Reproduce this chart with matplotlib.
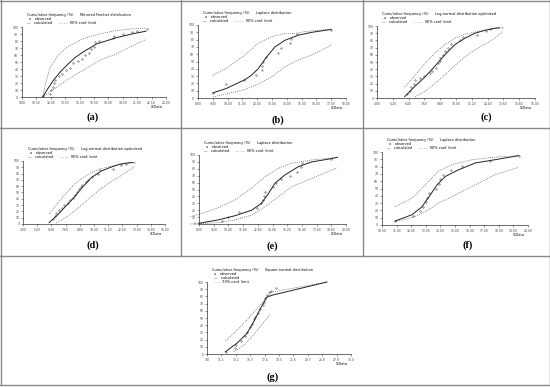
import numpy as np
import matplotlib
matplotlib.use("Agg")
import matplotlib.pyplot as plt
from matplotlib.lines import Line2D

W, H = 550, 387

# ---- panel (a) Mirrored Frechet
a_xticks = [9.0, 10.5, 12.0, 13.5, 15.0, 16.5, 18.0, 19.5, 21.0, 22.5, 24.0]
a_calc_x = [11.15, 11.6, 12.3, 13.0, 13.7, 14.5, 15.4, 16.8, 18.9, 20.6, 21.9]
a_calc_y = [0, 10, 24.5, 36, 45.8, 56, 64.6, 76, 85, 90.5, 94]
a_up_x = [11.15, 11.5, 11.95, 12.8, 13.7, 15.4, 17.2, 18.9, 20.6, 21.9]
a_up_y = [0, 22, 43, 60, 71.7, 83.5, 90.5, 95, 97.5, 98.5]
a_lo_x = [11.15, 12.3, 13.7, 15.4, 17.2, 18.9, 20.6, 21.9]
a_lo_y = [0, 11, 24.5, 38.7, 53, 62, 74, 82]
a_obs_x = [11.2, 11.9, 12.0, 12.2, 12.3, 12.4, 12.9, 13.2, 13.6, 14.0, 14.3, 14.8, 15.2,
           15.6, 16.0, 16.2, 16.5, 16.6, 17.0, 18.5, 18.6, 19.5, 20.5, 21.0, 22.0]
a_obs_y = [1, 5, 10, 15, 20, 25, 30, 33, 38, 42, 48, 52, 55,
           60, 63, 68, 72, 78, 80, 85, 87, 90, 93, 95, 97]

# ---- panel (b) Laplace
b_xticks = [8.0, 9.0, 10.0, 11.0, 12.0, 13.0, 14.0, 15.0, 16.0, 17.0, 18.0]
b_calc_x = [9.0, 9.9, 11.16, 11.6, 12.06, 12.63, 13.2, 13.87, 14.77, 15.7, 16.85, 17.0]
b_calc_y = [7, 13, 25, 31, 40, 56, 70, 79, 86, 90, 93.5, 94]
b_up_x = [9.0, 10.0, 11.16, 12.06, 12.97, 13.9, 14.5, 15.2, 16.85, 17.0]
b_up_y = [31, 42, 58.7, 74.8, 84, 88.5, 88, 91, 94, 94]
b_lo_x = [9.0, 10.0, 11.16, 12.06, 12.97, 13.87, 14.77, 15.7, 16.85, 17.0]
b_lo_y = [1.4, 6, 11.5, 19, 29, 42.7, 52, 59, 71, 73]
b_obs_x = [9.0, 9.9, 11.1, 11.9, 12.3, 12.35, 12.4, 12.6, 13.4, 13.6, 14.2, 14.3, 14.7, 17.0]
b_obs_y = [6.5, 19, 25, 31, 38, 44, 50, 56, 62, 69, 75, 81, 87, 93]

# ---- panel (c) Log-normal optimized
c_xticks = [4.0, 5.2, 6.4, 7.6, 8.8, 10.0, 11.2, 12.4, 13.6, 14.8, 16.0]
c_calc_x = [6.1, 6.87, 7.63, 8.39, 9.15, 9.91, 10.67, 11.44, 12.2, 12.96, 13.3]
c_calc_y = [2, 16, 29, 44, 60, 74, 83, 90, 94, 97, 97.5]
c_up_x = [6.1, 6.87, 7.63, 8.39, 9.15, 9.91, 10.67, 11.94, 13.2, 13.6, 13.5]
c_up_y = [15, 31, 48, 62, 74, 83, 88.5, 93.5, 97, 98, 95]
c_lo_x = [6.87, 7.63, 8.39, 9.15, 9.91, 10.67, 11.44, 12.2, 12.96, 13.5]
c_lo_y = [1.4, 9, 20, 32, 45, 57, 67, 75, 83, 92]
c_obs_x = [6.3, 6.5, 6.6, 6.8, 6.9, 7.3, 7.6, 8.0, 8.2, 8.5, 8.6, 8.8, 8.8,
           9.0, 9.2, 9.4, 9.6, 10.3, 10.5, 11.6, 12.3, 12.6]
c_obs_y = [5, 10, 15, 20, 25, 28, 30, 35, 38, 42, 48, 52, 55,
           60, 65, 70, 75, 80, 85, 88, 93, 96]

# ---- panel (d) Log-normal optimized
d_xticks = c_xticks
d_calc_x = [6.2, 6.9, 7.6, 8.3, 9.0, 9.8, 10.6, 11.4, 12.2, 12.9, 13.3]
d_calc_y = [2, 14, 28, 42, 58, 74, 84, 90, 95, 97, 97.5]
d_up_x = [6.2, 6.9, 7.6, 8.3, 9.0, 9.8, 10.6, 11.8, 12.9, 13.5, 13.4]
d_up_y = [16, 32, 48, 62, 73, 82, 88, 93, 97, 98, 95]
d_lo_x = [6.8, 7.6, 8.3, 9.0, 9.8, 10.6, 11.4, 12.2, 12.9, 13.4]
d_lo_y = [1.5, 10, 20, 31, 44, 56, 67, 76, 84, 91]
d_obs_x = [6.5, 6.7, 6.8, 7.0, 7.3, 7.5, 7.8, 8.0, 8.2, 8.4, 8.6, 8.7, 8.9,
           9.0, 9.3, 9.5, 9.8, 10.3, 10.5, 11.6, 12.3, 12.7]
d_obs_y = [8, 12, 18, 22, 26, 30, 34, 38, 42, 46, 50, 55, 58,
           62, 66, 70, 75, 80, 85, 88, 93, 96]

# ---- panel (e) Laplace
e_xticks = [8.0, 9.2, 10.4, 11.6, 12.8, 14.0, 15.2, 16.4, 17.6, 18.8, 20.0]
e_calc_x = [8.0, 9.58, 10.94, 12.3, 13.1, 13.66, 14.2, 15.0, 16.1, 17.2, 18.56, 19.3]
e_calc_y = [1, 6, 12, 20, 30, 44, 59, 71, 83, 90, 94, 96.6]
e_up_x = [7.3, 8.0, 9.58, 10.94, 12.3, 13.4, 14.48, 15.56, 17.2, 19.3]
e_up_y = [11, 14, 23.7, 35, 52, 68.6, 80.7, 88, 92.8, 96.6]
e_lo_x = [7.3, 8.0, 9.58, 10.94, 12.3, 13.4, 14.48, 15.56, 17.2, 19.3]
e_lo_y = [0, 0.5, 2, 6, 13, 25, 39.6, 54, 66, 81.6]
e_obs_x = [8.0, 9.9, 10.4, 11.3, 12.7, 13.1, 13.2, 13.3, 13.4, 14.0, 14.3, 14.7,
           15.4, 16.0, 16.3, 16.4, 18.8]
e_obs_y = [1, 5, 10, 17, 23, 30, 35, 41, 47, 53, 59, 65, 70, 76, 82, 88, 94]

# ---- panel (f) Laplace
f_xticks = [10.0, 11.0, 12.0, 13.0, 14.0, 15.0, 16.0, 17.0, 18.0, 19.0, 20.0]
f_calc_x = [10.9, 12.05, 12.74, 13.3, 13.77, 14.34, 15.25, 16.4, 17.76, 19.36]
f_calc_y = [5.5, 14, 25, 41, 55, 66.5, 75.7, 85, 89.5, 95]
f_up_x = [10.9, 12.05, 12.97, 13.88, 14.8, 16.16, 17.76, 19.36]
f_up_y = [25, 36.7, 55, 74, 82.6, 89.4, 93, 95]
f_lo_x = [10.9, 12.05, 12.97, 13.88, 14.8, 16.16, 17.76, 19.36]
f_lo_y = [4.6, 10, 18, 30, 39, 52.8, 69, 79]
f_obs_x = [10.9, 12.1, 12.6, 12.8, 13.0, 13.1, 13.2, 13.7, 13.9, 14.0, 14.2, 14.7,
           15.5, 17.4, 19.4]
f_obs_y = [6, 12, 19, 25, 31, 37, 44, 50, 56, 63, 69, 75, 81, 88, 94]

# ---- panel (g) Square-normal
g_xticks = [9.0, 11.1, 13.2, 15.3, 17.4, 19.5, 21.6, 23.7, 25.8, 27.9, 30.0]
g_calc_x = [11.67, 13.37, 14.83, 15.8, 16.77, 17.74, 18.47, 26.5]
g_calc_y = [3, 15, 28.6, 44.7, 63, 79, 81.6, 100]
g_up_x = [11.67, 13.37, 14.83, 16.28, 17.74, 18.47, 26.5]
g_up_y = [18, 33, 47, 63, 79, 86, 100]
g_lo_x = [12.9, 14.34, 15.55, 16.77, 18.2]
g_lo_y = [3, 12, 24, 38, 55]
g_obs_x = [11.7, 13.1, 13.3, 14.0, 14.5, 14.8, 15.3, 15.5, 15.8, 16.0, 16.5, 16.8,
           17.1, 17.3, 17.5, 17.8, 18.0, 18.4, 19.0]
g_obs_y = [3, 8, 12, 18, 25, 30, 37, 42, 48, 52, 57, 62, 68, 72, 78, 82, 86, 88, 91]

fig = plt.figure(figsize=(W / 100, H / 100), dpi=100)


def fx(x):
    return x / W


def fy(y):
    return 1 - y / H


def panel(rect, xticks, fmt, calc, up, lo, obs, title, letter, letter_xy, three_rows=False):
    l, t, r, b = rect
    ax = fig.add_axes([fx(l), fy(b), fx(r - l), (b - t) / H])
    ax.set_xlim(xticks[0], xticks[-1])
    ax.set_ylim(0, 100)
    for s in ["top", "right"]:
        ax.spines[s].set_visible(False)
    for s in ["left", "bottom"]:
        ax.spines[s].set_linewidth(0.5)
        ax.spines[s].set_color("#333333")
    ax.set_xticks(xticks)
    ax.set_xticklabels([fmt.format(v) for v in xticks])
    ax.set_yticks(range(0, 101, 10))
    ax.tick_params(labelsize=2.2, length=1.2, width=0.4, pad=1.5, colors="#444444")
    ax.plot(up[0], up[1], ls=(0, (1.5, 1.5)), lw=0.5, color="#666666", clip_on=False)
    ax.plot(lo[0], lo[1], ls=(0, (1.5, 1.5)), lw=0.5, color="#666666", clip_on=False)
    ax.plot(calc[0], calc[1], ls="-", lw=0.7, color="#222222", clip_on=False)
    ax.plot(obs[0], obs[1], ls="none", marker="o", ms=1.0, mfc="none", mec="#333333",
            mew=0.35, clip_on=False)

    fs = 2.5
    fig.text(fx(l + 5), fy(t - 12), "Cumulative frequency (%)", fontsize=fs, va="center")
    fig.text(fx(l + 58), fy(t - 12), title, fontsize=fs, va="center")
    fig.text(fx(l + 7), fy(t - 8), "o   observed", fontsize=fs, va="center")
    if three_rows:
        fig.text(fx(l + 7), fy(t - 4), "—   calculated", fontsize=fs, va="center")
        fig.text(fx(l + 7), fy(t), "- - -  90% conf. limit", fontsize=fs, va="center")
    else:
        fig.text(fx(l + 5), fy(t - 4), "—   calculated", fontsize=fs, va="center")
        fig.text(fx(l + 37), fy(t - 4), "- - - -  90% conf. limit", fontsize=fs, va="center")
    fig.text(fx(r - 15), fy(b + 10), "X-Data", fontsize=fs, va="center")
    fig.text(fx(letter_xy[0]), fy(letter_xy[1]), letter, fontsize=7.5,
             family="Liberation Serif", fontweight="bold", ha="center", va="center")
    return ax


f2 = "{:.2f}"
panel((22, 27, 166, 97), a_xticks, f2, (a_calc_x, a_calc_y), (a_up_x, a_up_y),
      (a_lo_x, a_lo_y), (a_obs_x, a_obs_y), "Mirrored Frechet distribution", "(a)", (93, 117))
panel((198, 25, 346, 98), b_xticks, f2, (b_calc_x, b_calc_y), (b_up_x, b_up_y),
      (b_lo_x, b_lo_y), (b_obs_x, b_obs_y), "Laplace distribution", "(b)", (278, 120))
panel((377, 26, 535, 98), c_xticks, f2, (c_calc_x, c_calc_y), (c_up_x, c_up_y),
      (c_lo_x, c_lo_y), (c_obs_x, c_obs_y), "Log-normal distribution optimized", "(c)", (486, 117))
panel((23, 161, 165, 224), d_xticks, f2, (d_calc_x, d_calc_y), (d_up_x, d_up_y),
      (d_lo_x, d_lo_y), (d_obs_x, d_obs_y), "Log-normal distribution optimized", "(d)", (93, 245))
panel((199, 155, 346, 224), e_xticks, f2, (e_calc_x, e_calc_y), (e_up_x, e_up_y),
      (e_lo_x, e_lo_y), (e_obs_x, e_obs_y), "Laplace distribution", "(e)", (272, 246))
panel((382, 152, 528, 225), f_xticks, f2, (f_calc_x, f_calc_y), (f_up_x, f_up_y),
      (f_lo_x, f_lo_y), (f_obs_x, f_obs_y), "Laplace distribution", "(f)", (468, 245))
panel((207, 282, 351, 354), g_xticks, "{:.1f}", (g_calc_x, g_calc_y), (g_up_x, g_up_y),
      (g_lo_x, g_lo_y), (g_obs_x, g_obs_y), "Square-normal distribution", "(g)", (273, 377),
      three_rows=True)

# frame lines between the panels
bc = "#8a8a8a"
for y in [0.5, 128, 256, 385]:
    fig.add_artist(Line2D([0, 1], [fy(y), fy(y)], color=bc, lw=1.0))
for x in [0.5, 549.5]:
    fig.add_artist(Line2D([fx(x), fx(x)], [fy(0), fy(385)], color=bc, lw=1.0))
for x in [181, 363]:
    fig.add_artist(Line2D([fx(x), fx(x)], [fy(0), fy(256)], color=bc, lw=1.0))

fig.savefig("out.png", dpi=100)
